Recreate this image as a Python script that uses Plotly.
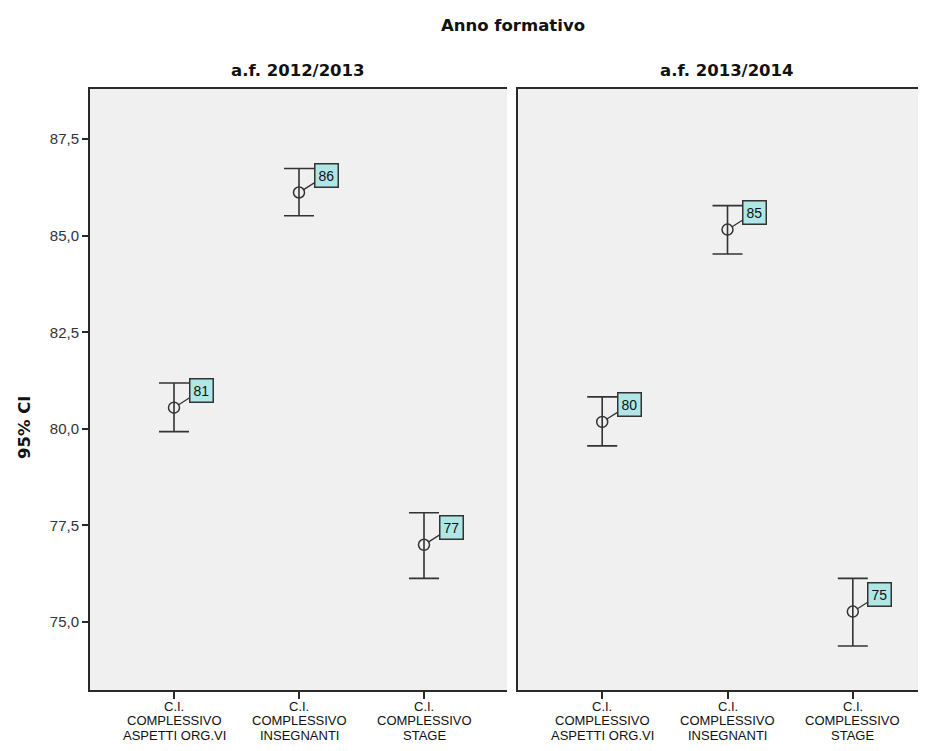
import plotly.graph_objects as go

cat_line1 = ["C.I.", "C.I.", "C.I."]
cat_line2 = ["COMPLESSIVO", "COMPLESSIVO", "COMPLESSIVO"]
cat_line3 = ["ASPETTI ORG.VI", "INSEGNANTI", "STAGE"]
panels = ["a.f. 2012/2013", "a.f. 2013/2014"]
means_2012 = [80.55, 86.12, 77.00]
upper_2012 = [81.19, 86.74, 77.83]
lower_2012 = [79.93, 85.52, 76.13]
labels_2012 = ["81", "86", "77"]
means_2013 = [80.18, 85.16, 75.27]
upper_2013 = [80.83, 85.78, 76.13]
lower_2013 = [79.56, 84.53, 74.38]
labels_2013 = ["80", "85", "75"]
y_ticks = [75.0, 77.5, 80.0, 82.5, 85.0, 87.5]

SANS = "Liberation Sans, Arial, sans-serif"
BOLD = "DejaVu Sans, Verdana, sans-serif"
LINE = "#2a2a2a"

# body margin of the page (8px) is compensated: figure is 918x743
W, H = 918, 743
L, T, B = 82, 81, 61
PW = W - L
PH = H - T - B

fig = go.Figure()
data = [(means_2012, upper_2012, lower_2012, labels_2012),
        (means_2013, upper_2013, lower_2013, labels_2013)]
xs = [0, 1, 2]
for i, (m, u, l, lab) in enumerate(data):
    ax = "x" if i == 0 else "x2"
    ay = "y" if i == 0 else "y2"
    fig.add_trace(go.Scatter(
        x=xs, y=m, mode="markers", xaxis=ax, yaxis=ay,
        marker=dict(symbol="circle-open", size=11, color="#333333", line=dict(width=1.5)),
        error_y=dict(type="data", symmetric=False,
                     array=[uu - mm for uu, mm in zip(u, m)],
                     arrayminus=[mm - ll for mm, ll in zip(m, l)],
                     color="#333333", thickness=1.6, width=15),
        showlegend=False, hoverinfo="skip"))
    for xv, yv, t in zip(xs, m, lab):
        fig.add_annotation(x=xv, y=yv, xref=ax, yref=ay, text=t,
                           showarrow=True, arrowhead=0, arrowwidth=1.3, arrowcolor="#333333",
                           ax=27, ay=-17, standoff=5,
                           bgcolor="#b0e6e6", bordercolor="#333333", borderwidth=1.5,
                           borderpad=3, font=dict(family=SANS, size=14, color="#111111"))
    for xv, a, b, c in zip(xs, cat_line1, cat_line2, cat_line3):
        for txt, off in ((a, 16), (b, 30.5), (c, 45)):
            fig.add_annotation(x=xv, xref=ax, y=0, yref="paper", yshift=-off, text=txt,
                               showarrow=False, xanchor="center", yanchor="middle",
                               font=dict(family=SANS, size=13, color="#111111"))

fig.update_layout(
    width=W, height=H,
    margin=dict(l=L, r=0, t=T, b=B),
    paper_bgcolor="white", plot_bgcolor="#f0f0f0",
    separators=",.",
    font=dict(family=SANS, color="#111111"),
    title=dict(text="<b>Anno formativo</b>", x=505 / W, xanchor="center", y=1 - 17 / H, yanchor="middle",
               font=dict(size=16.5, family=BOLD, color="#111111")),
)
d1 = [0, 417 / PW]
d2 = [428 / PW, 1]
xcommon = dict(tickmode="array", tickvals=xs, showticklabels=False, ticks="outside", ticklen=7,
               tickwidth=1.6, tickcolor=LINE, showline=True, linecolor=LINE, linewidth=2, mirror=True,
               showgrid=False, zeroline=False)
fig.update_layout(
    xaxis=dict(domain=d1, range=[-0.672, 2.664], anchor="y", **xcommon),
    xaxis2=dict(domain=d2, range=[-0.672, 2.584], anchor="y2", **xcommon),
    yaxis=dict(range=[73.24, 88.8], tickvals=y_ticks, tickformat=".1f", ticks="outside", ticklen=6,
               tickwidth=1.6, tickcolor=LINE, showline=True, linecolor=LINE, linewidth=2, mirror=False,
               showgrid=False, zeroline=False, tickfont=dict(size=15, family=SANS, color="#333333")),
    yaxis2=dict(range=[73.24, 88.8], anchor="x2", showticklabels=False, ticks="", showline=True,
                linecolor=LINE, linewidth=2, showgrid=False, zeroline=False),
)
centers = [(290 - L) / PW, (719 - L) / PW]
for c, t in zip(centers, panels):
    fig.add_annotation(text="<b>" + t + "</b>", x=c, xref="paper", y=1 + 19 / PH, yref="paper",
                       showarrow=False, xanchor="center", yanchor="middle",
                       font=dict(size=16.5, family=BOLD, color="#111111"))
fig.add_annotation(text="<b>95% CI</b>", x=(17 - L) / PW, xref="paper", y=(682 - 419) / PH, yref="paper",
                   showarrow=False, textangle=-90, xanchor="center", yanchor="middle",
                   font=dict(size=16.5, family=BOLD, color="#111111"))

fig.write_html("out.html")
